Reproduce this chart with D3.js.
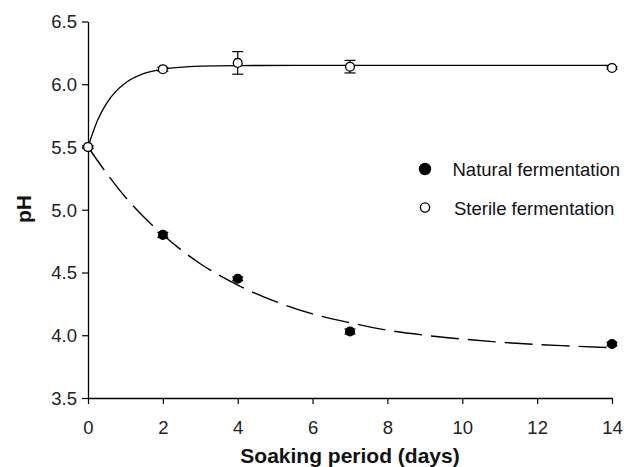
<!DOCTYPE html>
<html><head><meta charset="utf-8">
<script src="https://cdn.jsdelivr.net/npm/d3@7"></script>
<style>body{margin:0;background:#fff}svg{display:block}text{font-family:"Liberation Sans",Arial,sans-serif}</style>
</head><body><svg id="c" width="624" height="467"></svg>
<script>
const days = [0, 2, 4, 7, 14];
const naturalPH = [5.50, 4.80, 4.45, 4.03, 3.93];
const naturalErr = [0.01, 0.02, 0.015, 0.02, 0.015];
const sterilePH = [5.50, 6.12, 6.17, 6.14, 6.13];
const sterileErr = [0.01, 0.015, 0.09, 0.05, 0.01];
const naturalFitX = [0, 0.5, 1, 1.5, 2, 3, 4, 5, 6, 7, 8, 9, 10, 11, 12, 13, 14];
const naturalFitY = [5.50, 5.29, 5.10, 4.94, 4.80, 4.57, 4.40, 4.27, 4.17, 4.10, 4.04, 4.00, 3.97, 3.945, 3.926, 3.913, 3.90];
const sterileFitX = [0, 0.25, 0.5, 0.75, 1, 1.5, 2, 3, 4, 7, 10, 14];
const sterileFitY = [5.50, 5.71, 5.85, 5.945, 6.01, 6.086, 6.12, 6.144, 6.149, 6.15, 6.15, 6.15];
const xTicks = [0, 2, 4, 6, 8, 10, 12, 14];
const yTicks = [3.5, 4.0, 4.5, 5.0, 5.5, 6.0, 6.5];
const legendLabels = ["Natural fermentation", "Sterile fermentation"];

const svg = d3.select("#c");
const x = d3.scaleLinear().domain([0, 14]).range([88, 612]);
const y = d3.scaleLinear().domain([3.5, 6.5]).range([398, 21.5]);

// axes
const xa = svg.append("g").attr("transform", "translate(0,398)")
  .call(d3.axisBottom(x).tickValues(xTicks).tickFormat(d3.format("d")).tickSize(6).tickSizeOuter(0));
const ya = svg.append("g").attr("transform", "translate(88,0)")
  .call(d3.axisLeft(y).tickValues(yTicks).tickFormat(d3.format(".1f")).tickSize(6).tickSizeOuter(0));
[xa, ya].forEach(g => {
  g.select(".domain").attr("stroke", "#000").attr("stroke-width", 1.3);
  g.selectAll(".tick line").attr("stroke", "#000").attr("stroke-width", 1.2);
  g.selectAll(".tick text").attr("fill", "#222").attr("font-size", 18.5).attr("font-family", "Liberation Sans, Arial, sans-serif");
});
xa.selectAll(".tick text").attr("y", 36).attr("dy", 0);
ya.selectAll(".tick text").attr("x", -11).attr("dy", "0.35em");

// fitted curves
const line = d3.line().x(d => x(d[0])).y(d => y(d[1])).curve(d3.curveMonotoneX);
svg.append("path").datum(naturalFitX.map((d, i) => [d, naturalFitY[i]]))
  .attr("d", line).attr("fill", "none").attr("stroke", "#000").attr("stroke-width", 1.4)
  .attr("stroke-dasharray", "28,9");
svg.append("path").datum(sterileFitX.map((d, i) => [d, sterileFitY[i]]))
  .attr("d", line).attr("fill", "none").attr("stroke", "#000").attr("stroke-width", 1.3);

// error bars + markers
function series(vals, errs, filled) {
  const g = svg.append("g");
  days.forEach((d, i) => {
    const cx = x(d), y1 = y(vals[i] + errs[i]), y2 = y(vals[i] - errs[i]);
    g.append("line").attr("x1", cx).attr("x2", cx).attr("y1", y1).attr("y2", y2).attr("stroke", "#000").attr("stroke-width", 1.2);
    [y1, y2].forEach(yy => g.append("line").attr("x1", cx - 5.5).attr("x2", cx + 5.5).attr("y1", yy).attr("y2", yy).attr("stroke", "#000").attr("stroke-width", 1.2));
  });
  g.selectAll("circle").data(days).join("circle")
    .attr("cx", d => x(d)).attr("cy", (d, i) => y(vals[i])).attr("r", 4.4)
    .attr("fill", filled ? "#000" : "#fff").attr("stroke", "#000").attr("stroke-width", 1.3);
}
series(naturalPH, naturalErr, true);
series(sterilePH, sterileErr, false);

// legend
const leg = svg.append("g");
legendLabels.forEach((t, i) => {
  const ly = 169 + i * 38.5;
  leg.append("circle").attr("cx", 425).attr("cy", ly).attr("r", i === 0 ? 5.5 : 4.6)
    .attr("fill", i === 0 ? "#000" : "#fff").attr("stroke", "#000").attr("stroke-width", 1.4);
  leg.append("text").attr("x", i === 0 ? 452.5 : 454).attr("y", ly + 7).attr("font-size", 18.5).attr("fill", "#111").text(t);
});

// axis titles
svg.append("text").attr("x", 350).attr("y", 463).attr("text-anchor", "middle")
  .attr("font-size", 21).attr("font-weight", "bold").attr("fill", "#111").text("Soaking period (days)");
svg.append("text").attr("transform", "translate(31,209) rotate(-90)").attr("text-anchor", "middle")
  .attr("font-size", 21).attr("font-weight", "bold").attr("fill", "#111").text("pH");
</script></body></html>
